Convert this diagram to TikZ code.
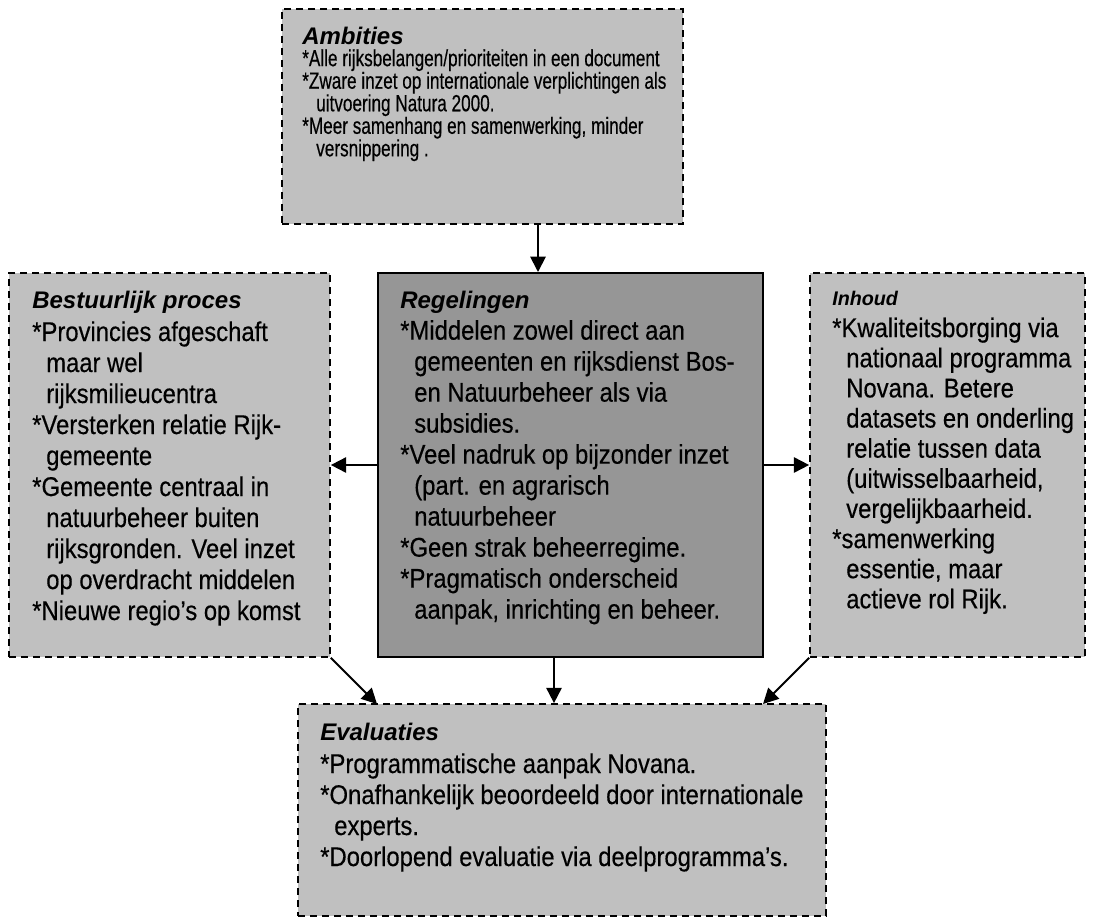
\documentclass[tikz,border=0pt]{standalone}
\usepackage{fontspec}
\setmainfont{Liberation Sans}
\newfontfamily\bodyfont[FakeStretch=0.88,FakeBold=0.4]{Liberation Sans}
\newfontfamily\narrowfont[FakeStretch=0.735,FakeBold=0.4]{Liberation Sans}
\newfontfamily\headfont{Liberation Sans}
\usetikzlibrary{arrows.meta,fit}

\definecolor{boxgray}{RGB}{192,192,192}
\definecolor{coregray}{RGB}{150,150,150}

% box heading in bold italic
\newcommand\boxhead[2][18]{{\headfont\fontsize{#1}{#1}\selectfont\bfseries\itshape #2}}
% one text line; its height is left to the row strut, so rows keep a fixed pitch
\newcommand\tline[1]{\smash{#1}}
% bullet mark and indent for the continuation lines of a bullet
\newcommand\bul{{*}}
\newcommand\cont{\hspace*{10.5pt}}

\tikzset{
  lightbox/.style={draw, fill=boxgray, line width=1.3pt, dash pattern=on 5pt off 4pt, inner sep=0pt},
  corebox/.style={draw, fill=coregray, line width=1.5pt, inner sep=0pt},
  arr/.style={-{Triangle[length=11.5pt,width=11.5pt]}, line width=1.4pt},
  txt/.style={anchor=base west, inner sep=0pt, align=left}
}

\begin{document}
\begin{tikzpicture}[x=0.75pt, y=-0.75pt]
\useasboundingbox (0,0) rectangle (1094,920);

% boxes
\node[lightbox, fit={(282,9) (683,224)}] (amb) {};
\node[lightbox, fit={(9,273) (330,657)}] (bes) {};
\node[corebox, fit={(378,273) (763,657)}] (reg) {};
\node[lightbox, fit={(810,273) (1085,657)}] (inh) {};
\node[lightbox, fit={(298,704) (826,916)}] (eva) {};

% texts
\node[txt] (ambtxt) at (302,45) {\narrowfont\fontsize{17.5}{16.9}\selectfont
\begin{tabular}[t]{@{}l@{}}
\tline{\boxhead{Ambities}}\\[-1pt]
\tline{\bul Alle rijksbelangen/prioriteiten in een document}\\
\tline{\bul Zware inzet op internationale verplichtingen als}\\
\tline{\cont uitvoering Natura 2000.}\\
\tline{\bul Meer samenhang en samenwerking, minder}\\
\tline{\cont versnippering .}
\end{tabular}};

\node[txt] (bestxt) at (32,308) {\bodyfont\fontsize{20.3}{23.25}\selectfont
\begin{tabular}[t]{@{}l@{}}
\tline{\boxhead{Bestuurlijk proces}}\\[1.5pt]
\tline{\bul Provincies afgeschaft}\\
\tline{\cont maar wel}\\
\tline{\cont rijksmilieucentra}\\
\tline{\bul Versterken relatie Rijk-}\\
\tline{\cont gemeente}\\
\tline{\bul Gemeente centraal in}\\
\tline{\cont natuurbeheer buiten}\\
\tline{\cont rijksgronden. Veel inzet}\\
\tline{\cont op overdracht middelen}\\
\tline{\bul Nieuwe regio’s op komst}
\end{tabular}};

\node[txt] (regtxt) at (400,308) {\bodyfont\fontsize{20.3}{23.25}\selectfont
\begin{tabular}[t]{@{}l@{}}
\tline{\boxhead{Regelingen}}\\[0.5pt]
\tline{\bul Middelen zowel direct aan}\\
\tline{\cont gemeenten en rijksdienst Bos-}\\
\tline{\cont en Natuurbeheer als via}\\
\tline{\cont subsidies.}\\
\tline{\bul Veel nadruk op bijzonder inzet}\\
\tline{\cont (part. en agrarisch}\\
\tline{\cont natuurbeheer}\\
\tline{\bul Geen strak beheerregime.}\\
\tline{\bul Pragmatisch onderscheid}\\
\tline{\cont aanpak, inrichting en beheer.}
\end{tabular}};

\node[txt] (inhtxt) at (832,305) {\bodyfont\fontsize{20.3}{22.6}\selectfont
\begin{tabular}[t]{@{}l@{}}
\tline{\boxhead[14.8]{Inhoud}}\\[1.5pt]
\tline{\bul Kwaliteitsborging via}\\
\tline{\cont nationaal programma}\\
\tline{\cont Novana. Betere}\\
\tline{\cont datasets en onderling}\\
\tline{\cont relatie tussen data}\\
\tline{\cont (uitwisselbaarheid,}\\
\tline{\cont vergelijkbaarheid.}\\
\tline{\bul samenwerking}\\
\tline{\cont essentie, maar}\\
\tline{\cont actieve rol Rijk.}
\end{tabular}};

\node[txt] (evatxt) at (320,740) {\bodyfont\fontsize{20.3}{23.25}\selectfont
\begin{tabular}[t]{@{}l@{}}
\tline{\boxhead{Evaluaties}}\\[1.5pt]
\tline{\bul Programmatische aanpak Novana.}\\
\tline{\bul Onafhankelijk beoordeeld door internationale}\\
\tline{\cont experts.}\\
\tline{\bul Doorlopend evaluatie via deelprogramma’s.}
\end{tabular}};

% connectors
\coordinate (topx) at (538,0);
\coordinate (botx) at (554,0);
\coordinate (evaleft) at (377,704);
\coordinate (evaright) at (763,704);
\draw[arr] (amb.south -| topx) -- (reg.north -| topx);
\draw[arr] (reg.west) -- (bes.east);
\draw[arr] (reg.east) -- (inh.west);
\draw[arr] (reg.south -| botx) -- (eva.north -| botx);
\draw[arr] (bes.south east) -- (evaleft);
\draw[arr] (inh.south west) -- (evaright);
\end{tikzpicture}
\end{document}
